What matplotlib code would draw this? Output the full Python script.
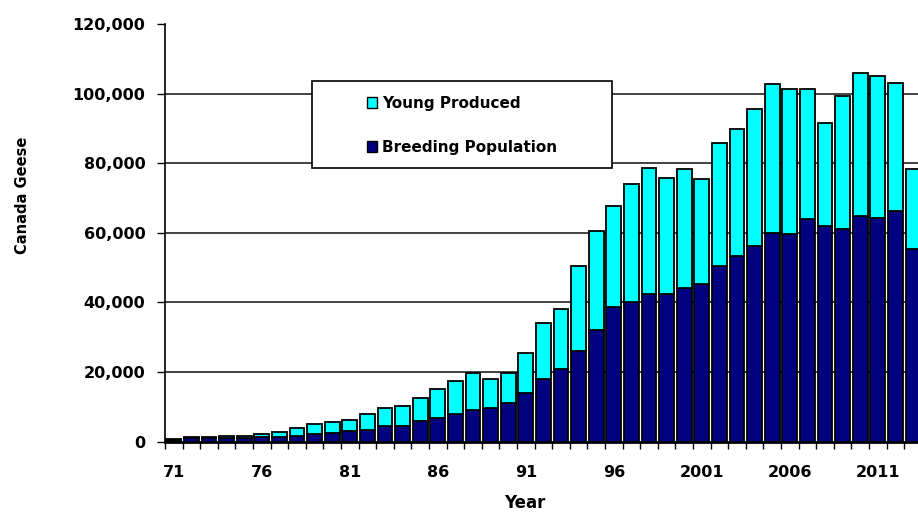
import matplotlib
matplotlib.use('Agg')
import matplotlib.pyplot as plt
from matplotlib.patches import Rectangle, Patch
import numpy as np

# Data (1971-2013)
years = list(range(1971, 2014))
breeding = [450, 900, 900, 900, 900, 1300, 1400, 1600, 2150, 2550,
            3000, 3400, 4350, 4350, 5800, 6700, 7800, 9100, 9500, 11200,
            14000, 17900, 20800, 26100, 32000, 38600, 40000, 42300, 42300, 44200,
            45200, 50400, 53300, 56200, 60000, 59600, 63900, 62000, 61000, 64900,
            64300, 66300, 55200]
young = [250, 300, 300, 750, 750, 850, 1250, 2400, 2850, 2950,
         3300, 4450, 5250, 5850, 6800, 8300, 9600, 10600, 8400, 8500,
         11500, 16200, 17200, 24300, 28500, 29100, 33900, 36400, 33500, 34000,
         30200, 35500, 36400, 39300, 42700, 41600, 37300, 29600, 38300, 41100,
         40700, 36800, 23000]
tick_years = [1971, 1976, 1981, 1986, 1991, 1996, 2001, 2006, 2011]
tick_labels = ['71', '76', '81', '86', '91', '96', '2001', '2006', '2011']

plt.rcParams['font.family'] = 'DejaVu Sans'
plt.rcParams['font.weight'] = 'bold'

W, H = 918, 513
fig = plt.figure(figsize=(W / 100, H / 100), dpi=100)
# plot area runs slightly past the right edge, as in the original
ax = fig.add_axes([165 / W, 71.5 / H, 756.8 / W, 417.5 / H])

x = np.arange(len(years))
ax.bar(x, breeding, width=0.84, color='#000080', edgecolor='black', linewidth=1.3, zorder=3)
ax.bar(x, young, bottom=breeding, width=0.84, color='#00FFFF', edgecolor='black',
       linewidth=1.3, zorder=3)

ax.set_xlim(-0.5, len(years) - 0.5)
ax.set_ylim(0, 120000)
ax.set_yticks(np.arange(0, 120001, 20000))
ax.set_yticklabels([f'{v:,}' for v in range(0, 120001, 20000)], fontsize=11.5, fontweight='bold')
ax.tick_params(axis='y', direction='out', length=6, width=1, pad=8)

ax.set_xticks([years.index(y) for y in tick_years])
ax.set_xticklabels(tick_labels, fontsize=11.5, fontweight='bold')
ax.set_xticks(np.arange(-0.5, len(years), 1), minor=True)
ax.tick_params(axis='x', which='major', length=0, pad=17)
ax.tick_params(axis='x', which='minor', direction='out', length=5, width=1)

ax.yaxis.grid(True, color='#222222', linewidth=1.2, zorder=0)
ax.get_ygridlines()[-1].set_visible(False)
ax.get_ygridlines()[0].set_visible(False)
ax.set_axisbelow(True)

for s in ['top', 'right']:
    ax.spines[s].set_visible(False)
ax.spines['left'].set_linewidth(1.2)
ax.spines['bottom'].set_linewidth(2)
ax.spines['bottom'].set_zorder(4)

fig.text(23 / W, 1 - 195 / H, 'Canada Geese', rotation=90, ha='center', va='center',
         fontsize=10.5, fontweight='bold')
fig.text(525 / W, 1 - 503 / H, 'Year', ha='center', va='center', fontsize=12, fontweight='bold')

# legend box
fig.patches.append(Rectangle((312 / W, 1 - 168 / H), 300 / W, 87 / H, transform=fig.transFigure,
                             facecolor='white', edgecolor='black', linewidth=1.2, zorder=5))
handles = [Patch(facecolor='#00FFFF', edgecolor='black', linewidth=1),
           Patch(facecolor='#000080', edgecolor='black', linewidth=1)]
leg = fig.legend(handles, ['Young Produced', 'Breeding Population'], loc='upper left',
                 bbox_to_anchor=(359 / W, 1 - 88 / H), frameon=False, borderpad=0,
                 handlelength=0.7, handleheight=0.7, handletextpad=0.3, labelspacing=1.9,
                 prop={'size': 11, 'weight': 'bold'})
leg.set_zorder(6)

fig.savefig('out.png', dpi=100)
